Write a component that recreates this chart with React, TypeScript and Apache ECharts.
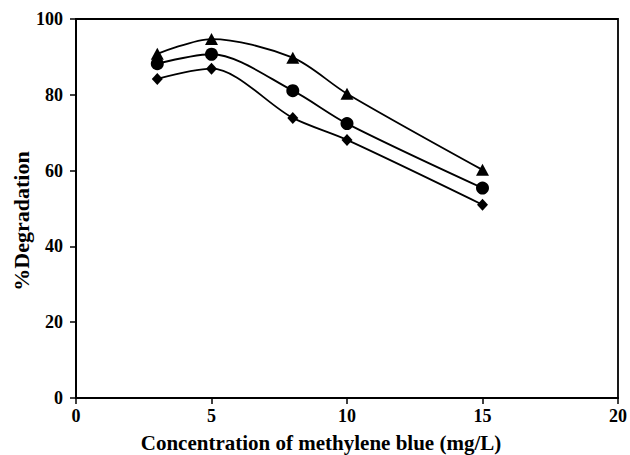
import React, { useEffect, useRef } from "react";
import * as echarts from "echarts";

// Methylene blue concentration (mg/L)
const concentrations = [3, 5, 8, 10, 15];
// % degradation for the three runs
const seriesTriangle = [90.8, 94.7, 89.8, 80.3, 60.2];
const seriesCircle = [88.2, 90.7, 81.1, 72.4, 55.4];
const seriesDiamond = [84.2, 86.9, 73.9, 68.1, 51.0];
const xTicks = [0, 5, 10, 15, 20];
const yTicks = [0, 20, 40, 60, 80, 100];

const FONT = "'Liberation Serif', 'Times New Roman', serif";

export default function App() {
  const ref = useRef<HTMLDivElement>(null);

  useEffect(() => {
    if (!ref.current) return;
    const chart = echarts.init(ref.current, null, { renderer: "svg" });

    const mk = (
      name: string,
      values: number[],
      symbol: string,
      size: number | number[]
    ) => ({
      name,
      type: "line",
      smooth: 0.3,
      data: concentrations.map((c, i) => [c, values[i]]),
      symbol,
      symbolSize: size,
      showSymbol: true,
      lineStyle: { color: "#000", width: 1.8 },
      itemStyle: { color: "#000", borderWidth: 0 },
    });

    const labelStyle = {
      fontFamily: FONT,
      fontWeight: "bold",
      fontSize: 18,
      color: "#000",
    };

    chart.setOption({
      animation: false,
      backgroundColor: "#fff",
      grid: {
        left: 76,
        right: 9,
        top: 19,
        bottom: 57,
        show: true,
        borderColor: "#000",
        borderWidth: 1.8,
        backgroundColor: "transparent",
      },
      graphic: [
        {
          type: "text",
          x: 321,
          y: 443,
          style: {
            text: "Concentration of methylene blue (mg/L)",
            fontFamily: FONT,
            fontWeight: "bold",
            fontSize: 21,
            lineHeight: 21,
            fill: "#000",
            align: "center",
            verticalAlign: "middle",
          },
        },
        {
          type: "text",
          x: 21,
          y: 221,
          rotation: Math.PI / 2,
          style: {
            text: "%Degradation",
            fontFamily: FONT,
            fontWeight: "bold",
            fontSize: 22,
            fill: "#000",
            align: "center",
            verticalAlign: "middle",
          },
        },
      ],
      xAxis: {
        type: "value",
        min: xTicks[0],
        max: xTicks[xTicks.length - 1],
        interval: 5,
        axisLine: { show: true, lineStyle: { color: "#000", width: 2 } },
        axisTick: { show: true, length: 6, lineStyle: { color: "#000", width: 1.5 } },
        splitLine: { show: false },
        axisLabel: { ...labelStyle, margin: 9 },
      },
      yAxis: {
        type: "value",
        min: yTicks[0],
        max: yTicks[yTicks.length - 1],
        interval: 20,
        axisLine: { show: true, lineStyle: { color: "#000", width: 2 } },
        axisTick: { show: true, length: 6, lineStyle: { color: "#000", width: 1.5 } },
        splitLine: { show: false },
        axisLabel: { ...labelStyle, margin: 13 },
      },
      series: [
        mk("A", seriesTriangle, "triangle", [13, 12]),
        mk("B", seriesCircle, "circle", 13),
        mk("C", seriesDiamond, "diamond", [11, 12]),
      ],
    });

    return () => chart.dispose();
  }, []);

  return (
    <div
      ref={ref}
      style={{ width: 630, height: 455, position: "absolute", left: 0, top: 0 }}
    />
  );
}
